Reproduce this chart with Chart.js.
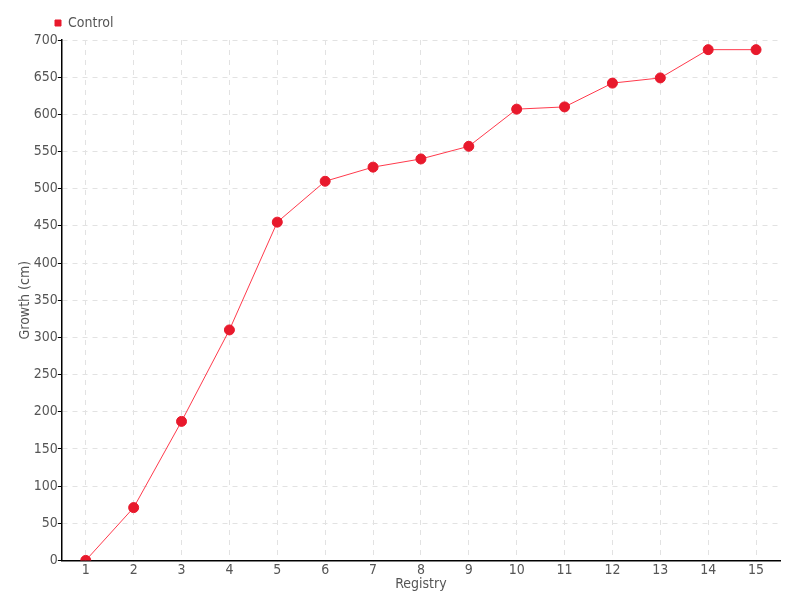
<!DOCTYPE html>
<html>
<head>
<meta charset="utf-8">
<script src="https://cdn.jsdelivr.net/npm/chart.js@4"></script>
<style>
  html,body{margin:0;padding:0;background:#fff;}
  #wrap{width:800px;height:600px;}
</style>
</head>
<body>
<div id="wrap"><canvas id="chart" width="800" height="600"></canvas></div>
<script>

const registry = ["1","2","3","4","5","6","7","8","9","10","11","12","13","14","15"];
const controlGrowth = [0,71,187,310,455,510,529,540,557,607,610,642,649,687,687];
const yTicks = [0,50,100,150,200,250,300,350,400,450,500,550,600,650,700];

const fontFamily = "'DejaVu Sans Condensed','Liberation Sans Narrow',sans-serif";
const textColor = '#555';

// nudge the legend to the right, over the y tick labels
const legendShift = {
  id:'legendShift',
  afterLayout(chart){
    chart.legend.left += 30;
    chart.legend.right += 30;
  }
};

new Chart(document.getElementById("chart"),{

  type:'line',

  data:{
    labels:registry,
    datasets:[{
      label:'Control',
      data:controlGrowth,
      borderColor:'#ff3a4c',
      borderWidth:1,
      backgroundColor:'#e8192c',
      pointBackgroundColor:'#e8192c',
      pointBorderColor:'#e8192c',
      pointRadius:5,
      tension:0
    }]
  },

  plugins:[legendShift],

  options:{
    responsive:false,
    animation:false,
    layout:{padding:{left:17,right:20,top:8,bottom:7}},
    plugins:{
      legend:{
        align:'start',
        labels:{
          color:textColor,
          font:{family:fontFamily,size:14},
          usePointStyle:true,
          pointStyle:'rect',
          boxWidth:6,
          boxHeight:6,
          padding:8
        }
      },
      tooltip:{enabled:false}
    },
    scales:{
      x:{
        offset:true,
        border:{color:'#000',width:1.5,dash:[5,5]},
        grid:{
          color:'#e2e2e2',
          tickLength:0,
          offset:false
        },
        ticks:{color:textColor,font:{family:fontFamily,size:14},padding:2},
        title:{display:true,text:'Registry',color:textColor,font:{family:fontFamily,size:14},padding:{top:-5,bottom:0}}
      },
      y:{
        min:0,
        max:700,
        border:{color:'#000',width:1.5,dash:[5,5]},
        grid:{
          color:'#e2e2e2',
          tickLength:4,
          tickColor:'#000'
        },
        afterBuildTicks:axis=>{ axis.ticks = yTicks.map(v=>({value:v})); },
        ticks:{color:textColor,font:{family:fontFamily,size:14},padding:0},
        title:{display:true,text:'Growth (cm)',color:textColor,font:{family:fontFamily,size:14},padding:0}
      }
    }
  }

});

</script>
</body>
</html>
